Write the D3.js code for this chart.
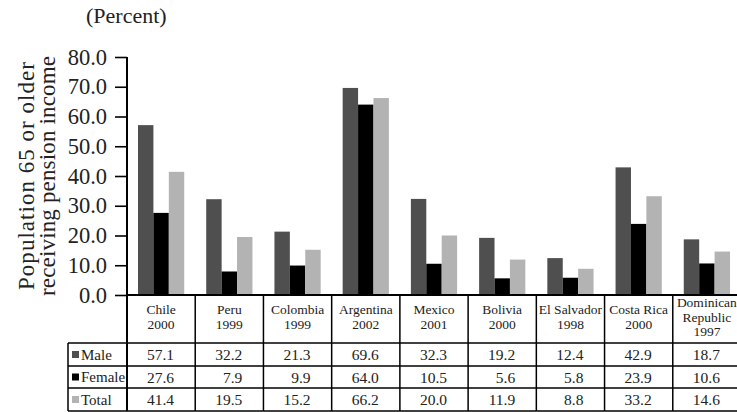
<!DOCTYPE html>
<html><head><meta charset="utf-8">
<script src="https://cdn.jsdelivr.net/npm/d3@7"></script>
<style>body{margin:0;background:#fff}svg{display:block}svg text{font-family:"Liberation Serif","Times New Roman","DejaVu Serif",serif}</style>
</head><body><svg id="c" width="737" height="412"></svg>
<script>
const categories = ["Chile|2000","Peru|1999","Colombia|1999","Argentina|2002","Mexico|2001","Bolivia|2000","El Salvador|1998","Costa Rica|2000","Dominican|Republic|1997"];
const seriesNames = ["Male","Female","Total"];
const male   = [57.1,32.2,21.3,69.6,32.3,19.2,12.4,42.9,18.7];
const female = [27.6,7.9,9.9,64.0,10.5,5.6,5.8,23.9,10.6];
const total  = [41.4,19.5,15.2,66.2,20.0,11.9,8.8,33.2,14.6];
const yTicks = [0,10,20,30,40,50,60,70,80];
const colors = ["#4f4f4f","#000000","#b3b3b3"];
const values = [male, female, total];

const svg = d3.select("#c");
const x0 = 127, x1 = 741, yBase = 295;
const rowY = [343, 366, 388, 411];
const tableLeft = 68;

const x = d3.scaleBand().domain(categories).range([x0, x1]).paddingInner(0).paddingOuter(0);
const xs = d3.scaleBand().domain(seriesNames).range([0, x.bandwidth()]).paddingInner(0).paddingOuter(0.714);
const y = d3.scaleLinear().domain([0, 80]).range([yBase, 57]);

// bars
const rows = [];
categories.forEach((c,i)=>seriesNames.forEach((s,j)=>rows.push({c,s,v:values[j][i],j})));
svg.append("g").selectAll("rect").data(rows).join("rect")
  .attr("x", d=>x(d.c)+xs(d.s)).attr("width", xs.bandwidth())
  .attr("y", d=>y(d.v)).attr("height", d=>yBase-y(d.v))
  .attr("fill", d=>colors[d.j]);

// y axis
const ya = svg.append("g").attr("transform",`translate(${x0},0)`)
  .call(d3.axisLeft(y).tickValues(yTicks).tickFormat(d3.format(".1f")).tickSize(12).tickSizeOuter(0).tickPadding(8));
ya.attr("font-family",null);
ya.select(".domain").remove();
ya.selectAll(".tick line").attr("stroke","#000").attr("stroke-width",1.6);
ya.selectAll(".tick text").attr("font-size",22.5).attr("fill","#222");
svg.append("line").attr("x1",x0).attr("x2",x0).attr("y1",y(80)).attr("y2",rowY[3]).attr("stroke","#000").attr("stroke-width",2);

// title texts
svg.append("text").attr("x",86).attr("y",23).attr("font-size",22).attr("fill","#222").text("(Percent)");
const yt = svg.append("text").attr("transform","translate(0,176) rotate(-90)").attr("text-anchor","middle").attr("font-size",23).attr("fill","#222");
yt.append("tspan").attr("x",0).attr("y",34).attr("textLength",228).attr("lengthAdjust","spacing").text("Population 65 or older");
yt.append("tspan").attr("x",0).attr("y",55).attr("textLength",240).attr("lengthAdjust","spacing").text("receiving pension income");

// table lines
const g = svg.append("g").attr("stroke","#000").attr("stroke-width",1.5);
g.append("line").attr("x1",x0).attr("x2",x1).attr("y1",yBase).attr("y2",yBase).attr("stroke-width",2);
rowY.forEach(yy=>g.append("line").attr("x1",tableLeft).attr("x2",x1).attr("y1",yy).attr("y2",yy));
g.append("line").attr("x1",tableLeft).attr("x2",tableLeft).attr("y1",rowY[0]).attr("y2",rowY[3]);
categories.forEach(c=>g.append("line").attr("x1",x(c)+x.bandwidth()).attr("x2",x(c)+x.bandwidth()).attr("y1",yBase).attr("y2",rowY[3]));

// category labels
categories.forEach(c=>{
  const lines = c.split("|");
  const cx = x(c)+x.bandwidth()/2;
  const lh = 14.5;
  const start = 321.5 - (lines.length-1)*lh/2;
  const t = svg.append("text").attr("text-anchor","middle").attr("font-size",13.5).attr("fill","#222");
  lines.forEach((l,k)=>t.append("tspan").attr("x",cx).attr("y",start+k*lh).text(l));
});

// row headers and values
seriesNames.forEach((s,j)=>{
  const top = rowY[j], bot = rowY[j+1], mid = (top+bot)/2;
  svg.append("rect").attr("x",72).attr("y",mid-3.5).attr("width",7).attr("height",7).attr("fill",colors[j]);
  svg.append("text").attr("x",81).attr("y",mid+5).attr("font-size",15).attr("fill","#222").text(s);
  categories.forEach((c,i)=>{
    svg.append("text").attr("x",x(c)+x.bandwidth()/2+13).attr("y",mid+5.5).attr("text-anchor","end")
      .attr("font-size",15.5).attr("fill","#222").text(d3.format(".1f")(values[j][i]));
  });
});
</script></body></html>
